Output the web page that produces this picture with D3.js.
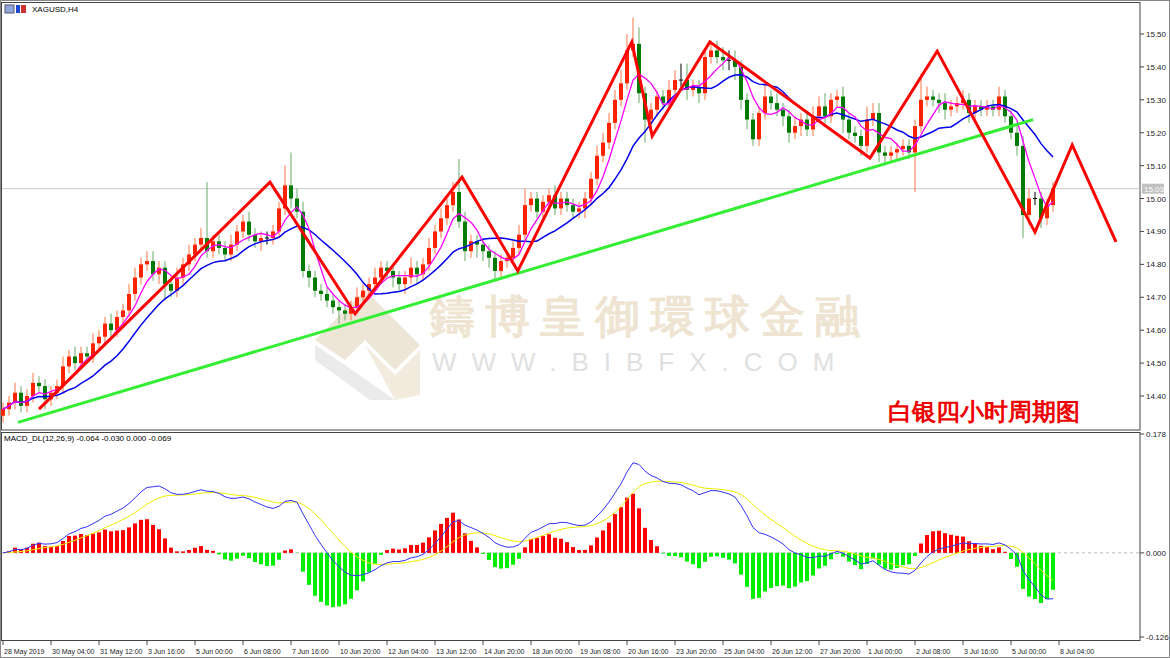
<!DOCTYPE html>
<html>
<head>
<meta charset="utf-8">
<script src="https://cdn.jsdelivr.net/npm/d3@7"></script>
<style>
  body { margin: 0; background: #fff; }
  text { font-family: "Liberation Sans", "DejaVu Sans", sans-serif; }
</style>
</head>
<body>
<svg id="chart" width="1170" height="658"></svg>
<script>
// XAGUSD H4 with zigzag, MAs and MACD panel

// closes per H4 bar, 28 May -> 8 Jul 04:00
const closes = [
  14.36,14.38,14.41,14.37,14.40,14.44,14.43,14.39,
  14.41,14.43,14.49,14.52,14.50,14.53,14.52,14.56,
  14.58,14.62,14.60,14.64,14.66,14.71,14.76,14.80,
  14.81,14.77,14.79,14.74,14.72,14.76,14.80,14.83,
  14.86,14.88,14.84,14.87,14.85,14.83,14.86,14.90,
  14.93,14.89,14.87,14.88,14.88,14.90,14.97,15.04,
  15.00,14.96,14.78,14.76,14.72,14.71,14.69,14.67,
  14.66,14.65,14.67,14.70,14.72,14.74,14.76,14.79,
  14.78,14.76,14.74,14.76,14.79,14.77,14.80,14.85,
  14.90,14.94,14.98,15.02,14.93,14.84,14.87,14.86,
  14.84,14.82,14.78,14.81,14.82,14.85,14.89,14.98,
  15.00,14.96,14.99,15.01,14.97,15.00,14.98,14.96,
  14.97,15.00,15.06,15.13,15.17,15.23,15.30,15.35,
  15.45,15.47,15.32,15.24,15.27,15.31,15.29,15.33,
  15.36,15.36,15.33,15.34,15.32,15.43,15.45,15.43,
  15.42,15.42,15.40,15.30,15.24,15.18,15.26,15.31,
  15.29,15.27,15.25,15.20,15.22,15.24,15.21,15.25,
  15.28,15.25,15.30,15.31,15.24,15.20,15.19,15.16,
  15.24,15.26,15.14,15.13,15.14,15.15,15.16,15.14,
  15.22,15.30,15.31,15.30,15.29,15.27,15.28,15.29,
  15.30,15.26,15.28,15.27,15.28,15.27,15.31,15.25,
  15.20,15.16,14.95,15.00,15.00,14.94,14.98,15.03
];
const firstOpen = 14.34;

// wick lengths above / below the body, in cents
const wickUp = [
  2,2,3,2,2,3,2,2, 2,2,3,2,3,2,2,3, 2,2,3,2,2,3,3,2, 3,3,2,2,2,3,2,3,
  2,3,17,2,2,2,3,2, 2,3,2,2,2,2,2,6, 10,3,3,2,2,2,2,2, 2,2,2,3,2,2,3,2,
  2,2,2,2,3,2,2,3, 2,3,2,3,10,3,2,2, 2,2,2,2,2,2,3,5, 2,2,2,2,3,2,2,2,
  2,2,2,3,3,3,3,4, 5,8,5,2,2,2,2,3, 3,5,5,2,2,2,3,3, 3,3,3,2,2,2,2,4,
  2,3,2,2,3,2,2,3, 3,4,2,2,3,2,2,2, 4,3,3,2,2,2,2,2, 2,8,3,2,2,3,2,2,
  3,2,2,2,2,2,3,2, 2,3,3,3,2,2,2,2
];
const wickDn = [
  2,2,2,2,2,2,2,3, 2,2,2,2,2,2,2,2, 2,2,2,2,2,2,2,2, 2,2,3,5,2,2,2,2,
  2,2,2,2,2,2,2,2, 2,2,2,3,2,2,2,2, 3,2,2,3,2,2,2,2, 4,2,2,2,2,2,2,2,
  2,3,2,3,2,3,2,2, 2,2,2,2,2,3,2,4, 3,3,3,2,2,2,2,2, 2,2,2,2,2,2,2,2,
  2,3,2,2,2,2,2,2, 2,2,3,7,3,2,2,2, 2,2,3,2,3,2,2,2, 3,3,4,3,3,2,2,2,
  2,2,3,3,2,3,2,2, 2,2,2,2,4,2,2,3, 2,2,3,3,2,2,2,2, 12,2,2,2,3,3,2,2,
  2,3,2,2,2,2,2,2, 2,3,7,3,2,3,2,2
];

// zigzag turning points: [bar index, price]
const zigzag = [
  [6,14.36],[44.5,15.05],[58.7,14.65],[76.5,15.065],[85.8,14.78],[104.8,15.476],
  [108.2,15.19],[117.8,15.476],[144.5,15.123],[155.7,15.448],[172,14.898],
  [178.2,15.163],[185.5,14.868]
];
const trendLine = [[2.5,14.32],[171.7,15.24]];

const priceTicks = [14.40,14.50,14.60,14.70,14.80,14.90,15.00,15.10,15.20,15.30,15.40,15.50];
const macdTicks = [0.178, 0.000, -0.126];
const dateLabels = ["28 May 2019","30 May 04:00","31 May 12:00","3 Jun 16:00","5 Jun 00:00",
  "6 Jun 08:00","7 Jun 16:00","10 Jun 20:00","12 Jun 04:00","13 Jun 12:00","14 Jun 20:00",
  "18 Jun 00:00","19 Jun 08:00","20 Jun 16:00","23 Jun 20:00","25 Jun 04:00","26 Jun 12:00",
  "27 Jun 20:00","1 Jul 00:00","2 Jul 08:00","3 Jul 16:00","5 Jul 00:00","8 Jul 04:00"];
const lastPrice = 15.03;

const svg = d3.select("#chart");
const plotRight = 1140;
const mainTop = 3, mainBottom = 430, macdTop = 432, macdBottom = 640;

let x = d3.scaleLinear().domain([0, 1]).range([3, 9]);
let y = d3.scaleLinear().domain([14.40, 15.50]).range([396, 34]);
let ym = d3.scaleLinear().domain([-0.126, 0.178]).range([637, 434]);

// bars
let bars = closes.map(function(c, i) {
  let o = i === 0 ? firstOpen : closes[i - 1];
  return { i: i, o: o, c: c,
    h: Math.max(o, c) + wickUp[i] / 100,
    l: Math.min(o, c) - wickDn[i] / 100 };
});

function sma(arr, n) {
  return arr.map(function(v, i) {
    let s = arr.slice(Math.max(0, i - n + 1), i + 1);
    return d3.mean(s);
  });
}
function ema(arr, n) {
  let k = 2 / (n + 1), out = [];
  arr.forEach(function(v, i) { out.push(i === 0 ? v : v * k + out[i - 1] * (1 - k)); });
  return out;
}
let maFast = sma(closes, 5);
let maSlow = sma(closes, 13);
let e12 = ema(closes, 12), e26 = ema(closes, 26);
let macd = e12.map(function(v, i) { return v - e26[i]; });
let signal = ema(macd, 9);
let hist = macd.map(function(v, i) { return 2 * (v - signal[i]); });

// frames
svg.append("rect").attr("x", 0.5).attr("y", 0.5).attr("width", 1169).attr("height", 657)
  .attr("fill", "none").attr("stroke", "#888");
svg.append("rect").attr("x", 1.5).attr("y", 2.5).attr("width", plotRight - 1.5).attr("height", mainBottom - 2.5)
  .attr("fill", "none").attr("stroke", "#444");
svg.append("rect").attr("x", 1.5).attr("y", macdTop + 0.5).attr("width", plotRight - 1.5).attr("height", macdBottom - macdTop)
  .attr("fill", "none").attr("stroke", "#444");

// watermark
let wm = svg.append("g").attr("opacity", 0.55);
wm.append("polygon").attr("points", "315,340 365,290 420,345 395,370 365,340 345,360").attr("fill", "#e0d2b8");
wm.append("polygon").attr("points", "315,345 345,365 395,400 370,400 315,360").attr("fill", "#dcdcdc");
wm.append("polygon").attr("points", "365,345 395,375 420,350 420,395 395,400").attr("fill", "#e8dcc4");
wm.append("text").attr("x", 430).attr("y", 332).attr("font-size", 45).attr("font-weight", "bold")
  .attr("fill", "#e2cfae").attr("font-family", "Noto Sans CJK SC").attr("letter-spacing", 10)
  .text("鑄博皇御環球金融");
wm.append("text").attr("x", 432).attr("y", 371).attr("font-size", 26)
  .attr("fill", "#c8c8c8").attr("letter-spacing", 15).text("WWW.BIBFX.COM");

// price axis
let pa = svg.append("g");
priceTicks.forEach(function(p) {
  pa.append("line").attr("x1", plotRight).attr("x2", plotRight + 4).attr("y1", y(p)).attr("y2", y(p)).attr("stroke", "#444");
  pa.append("text").attr("x", plotRight + 6).attr("y", y(p) + 3).attr("font-size", 8).attr("fill", "#222").text(p.toFixed(2));
});
svg.append("line").attr("x1", 2).attr("x2", plotRight).attr("y1", y(lastPrice)).attr("y2", y(lastPrice)).attr("stroke", "#c8c8c8");
svg.append("rect").attr("x", plotRight + 2).attr("y", y(lastPrice) - 5).attr("width", 22).attr("height", 10).attr("fill", "#c0c0c0");
svg.append("text").attr("x", plotRight + 4).attr("y", y(lastPrice) + 3).attr("font-size", 8).attr("fill", "#fff").text(lastPrice.toFixed(2));

// macd axis
macdTicks.forEach(function(v) {
  svg.append("line").attr("x1", plotRight).attr("x2", plotRight + 4).attr("y1", ym(v)).attr("y2", ym(v)).attr("stroke", "#444");
  svg.append("text").attr("x", plotRight + 6).attr("y", ym(v) + 3).attr("font-size", 8).attr("fill", "#222")
    .text(v === 0 ? "0.000" : v.toFixed(3));
});

// time axis
dateLabels.forEach(function(t, k) {
  let xx = x(k * 8);
  svg.append("line").attr("x1", xx).attr("x2", xx).attr("y1", macdBottom).attr("y2", macdBottom + 5).attr("stroke", "#444");
  svg.append("text").attr("x", xx + 1).attr("y", 654).attr("font-size", 7).attr("fill", "#222").text(t);
});

// candles
let cg = svg.append("g");
bars.forEach(function(b) {
  let up = b.c > b.o + 0.001, down = b.c < b.o - 0.001;
  let col = up ? "#ff2200" : down ? "#007a00" : "#000";
  cg.append("line").attr("x1", x(b.i)).attr("x2", x(b.i)).attr("y1", y(b.h)).attr("y2", y(b.l))
    .attr("stroke", up ? "#ff7744" : down ? "#66aa66" : "#000").attr("stroke-width", 1);
  let top = y(Math.max(b.o, b.c)), bot = y(Math.min(b.o, b.c));
  if (up || down) {
    cg.append("rect").attr("x", x(b.i) - 2).attr("y", top).attr("width", 4).attr("height", Math.max(1, bot - top)).attr("fill", col);
  } else {
    cg.append("line").attr("x1", x(b.i) - 2).attr("x2", x(b.i) + 2).attr("y1", top).attr("y2", top).attr("stroke", "#000");
  }
});

// moving averages
let maLine = function(arr) {
  return d3.line().x(function(d, i) { return x(i); }).y(function(d) { return y(d); })(arr);
};
svg.append("path").attr("d", maLine(maSlow)).attr("fill", "none").attr("stroke", "#0000ee").attr("stroke-width", 1.5);
svg.append("path").attr("d", maLine(maFast)).attr("fill", "none").attr("stroke", "#ff00ff").attr("stroke-width", 1.3);

// trend and zigzag
let ptLine = d3.line().x(function(d) { return x(d[0]); }).y(function(d) { return y(d[1]); });
svg.append("path").attr("d", ptLine(trendLine)).attr("fill", "none").attr("stroke", "#33ee33").attr("stroke-width", 3);
svg.append("path").attr("d", ptLine(zigzag)).attr("fill", "none").attr("stroke", "#ff0000").attr("stroke-width", 3);

// labels
svg.append("rect").attr("x", 5).attr("y", 5).attr("width", 9).attr("height", 8).attr("fill", "#8fa8d8").attr("stroke", "#557");
svg.append("rect").attr("x", 16).attr("y", 5).attr("width", 4).attr("height", 8).attr("fill", "#2244cc");
svg.append("rect").attr("x", 21).attr("y", 5).attr("width", 5).attr("height", 8).attr("fill", "#cc3333");
svg.append("text").attr("x", 32).attr("y", 12).attr("font-size", 8).attr("fill", "#000").text("XAGUSD,H4");
svg.append("text").attr("x", 888).attr("y", 420).attr("font-size", 24).attr("font-weight", "bold")
  .attr("font-family", "Noto Sans CJK SC").attr("fill", "#ee0000").text("白银四小时周期图");

// MACD panel
svg.append("line").attr("x1", 2).attr("x2", plotRight).attr("y1", ym(0)).attr("y2", ym(0))
  .attr("stroke", "#bbb").attr("stroke-dasharray", "3,3");
let mg = svg.append("g");
hist.forEach(function(v, i) {
  mg.append("rect").attr("x", x(i) - 2).attr("width", 4)
    .attr("y", Math.min(ym(v), ym(0))).attr("height", Math.abs(ym(v) - ym(0)))
    .attr("fill", v >= 0 ? "#ff0000" : "#00ee00");
});
let mLine = function(arr) {
  return d3.line().x(function(d, i) { return x(i); }).y(function(d) { return ym(d); })(arr);
};
svg.append("path").attr("d", mLine(signal)).attr("fill", "none").attr("stroke", "#eeee00").attr("stroke-width", 1);
svg.append("path").attr("d", mLine(macd)).attr("fill", "none").attr("stroke", "#3333ff").attr("stroke-width", 1);
svg.append("text").attr("x", 4).attr("y", 441).attr("font-size", 8).attr("fill", "#000")
  .text("MACD_DL(12,26,9) -0.064 -0.030 0.000 -0.069");
</script>
</body>
</html>
